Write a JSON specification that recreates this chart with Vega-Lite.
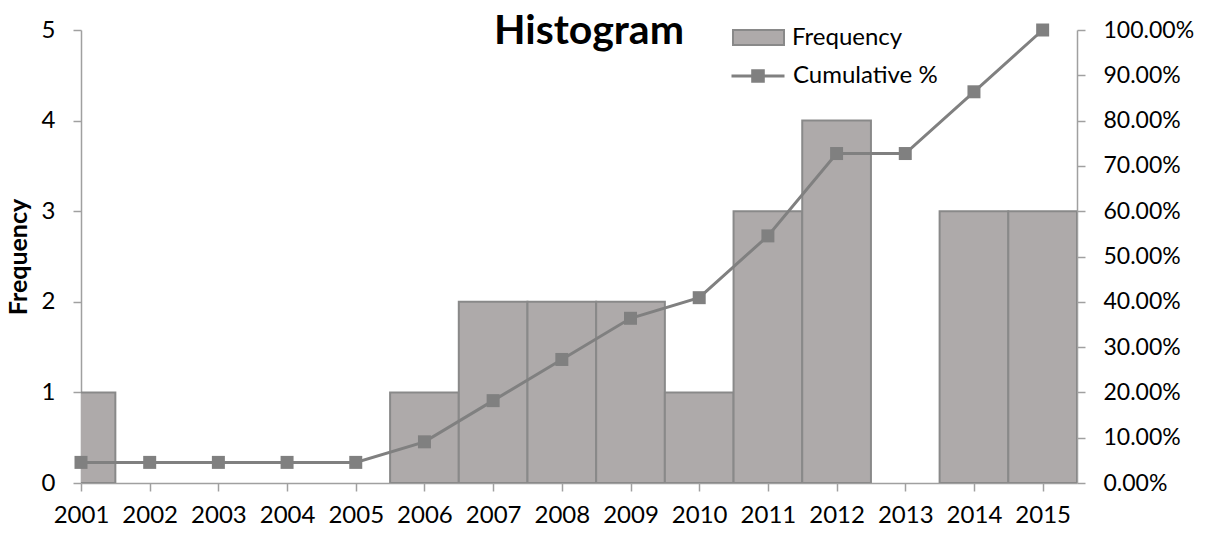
{
  "$schema": "https://vega.github.io/schema/vega-lite/v6.json",
  "width": 996,
  "height": 453,
  "autosize": {"type": "none"},
  "padding": {"left": 81, "top": 30, "right": 130, "bottom": 50},
  "background": "white",
  "config": {
    "font": "Lato",
    "view": {"stroke": null},
    "axis": {"grid": false, "domainColor": "#A0A0A0", "tickColor": "#A0A0A0", "labelColor": "#000000", "labelFontSize": 24, "labelFont": "Lato", "domainWidth": 1.5, "tickWidth": 1.5, "tickSize": 8},
    "legend": {"padding": 0, "labelFontSize": 24, "labelFont": "Lato", "labelColor": "#000000"}
  },
  "title": {"text": "Histogram", "fontSize": 41, "fontWeight": "bold", "font": "Lato", "color": "#000000", "anchor": "middle", "frame": "group", "offset": 0, "dy": 74, "dx": 10, "baseline": "alphabetic"},
  "data": {"values": [
    {"year": 2001, "freq": 1, "cum": 0.0455},
    {"year": 2002, "freq": 0, "cum": 0.0455},
    {"year": 2003, "freq": 0, "cum": 0.0455},
    {"year": 2004, "freq": 0, "cum": 0.0455},
    {"year": 2005, "freq": 0, "cum": 0.0455},
    {"year": 2006, "freq": 1, "cum": 0.0909},
    {"year": 2007, "freq": 2, "cum": 0.1818},
    {"year": 2008, "freq": 2, "cum": 0.2727},
    {"year": 2009, "freq": 2, "cum": 0.3636},
    {"year": 2010, "freq": 1, "cum": 0.4091},
    {"year": 2011, "freq": 3, "cum": 0.5455},
    {"year": 2012, "freq": 4, "cum": 0.7273},
    {"year": 2013, "freq": 0, "cum": 0.7273},
    {"year": 2014, "freq": 3, "cum": 0.8636},
    {"year": 2015, "freq": 3, "cum": 1.0}
  ]},
  "layer": [
    {
      "transform": [{"filter": "datum.freq > 0"}],
      "mark": {"type": "bar", "clip": true, "stroke": "#898989", "strokeWidth": 2, "width": 68.69},
      "encoding": {
        "x": {"field": "year", "type": "quantitative", "scale": {"domain": [2001, 2015.5], "nice": false, "zero": false, "padding": 0},
              "axis": {"title": null, "values": [2001,2002,2003,2004,2005,2006,2007,2008,2009,2010,2011,2012,2013,2014,2015], "format": "d", "labelPadding": 12, "labelFlush": false}},
        "y": {"field": "freq", "type": "quantitative", "scale": {"domain": [0, 5], "nice": false},
              "axis": {"title": "Frequency", "titleFontSize": 25, "titleFontWeight": "bold", "titleColor": "#000000", "titleFont": "Lato", "values": [0,1,2,3,4,5], "labelPadding": 18, "titlePadding": 10}},
        "fill": {"datum": "Frequency", "scale": {"range": ["#AEAAAA"]},
                 "legend": {"title": null, "orient": "none", "legendX": 651, "legendY": -19, "symbolType": "M-1,-0.29H1V0.29H-1Z", "symbolSize": 2601, "symbolStrokeColor": "#898989", "symbolStrokeWidth": 2, "labelOffset": 7}}
      }
    },
    {
      "mark": {"type": "line", "strokeWidth": 3},
      "encoding": {
        "x": {"field": "year", "type": "quantitative"},
        "y": {"field": "cum", "type": "quantitative", "scale": {"domain": [0, 1], "nice": false},
              "axis": {"orient": "right", "title": null, "format": ".2%", "values": [0,0.1,0.2,0.3,0.4,0.5,0.6,0.7,0.8,0.9,1.0], "labelPadding": 18, "labelFontSize": 23}},
        "stroke": {"datum": "Cumulative %", "scale": {"range": ["#808080"]},
                   "legend": {"title": null, "orient": "none", "legendX": 649, "legendY": 18, "symbolType": "M-1,0H1M-0.2,-0.2H0.2V0.2H-0.2Z", "symbolSize": 2809, "symbolStrokeWidth": 3, "symbolFillColor": "#808080", "labelOffset": 7,
                              "encode": {"symbols": {"update": {"fill": {"value": "#808080"}}}}}}
      }
    },
    {
      "mark": {"type": "point", "shape": "square", "filled": true, "size": 169, "color": "#808080", "opacity": 1},
      "encoding": {
        "x": {"field": "year", "type": "quantitative"},
        "y": {"field": "cum", "type": "quantitative", "axis": null}
      }
    }
  ],
  "resolve": {"scale": {"y": "independent"}}
}
